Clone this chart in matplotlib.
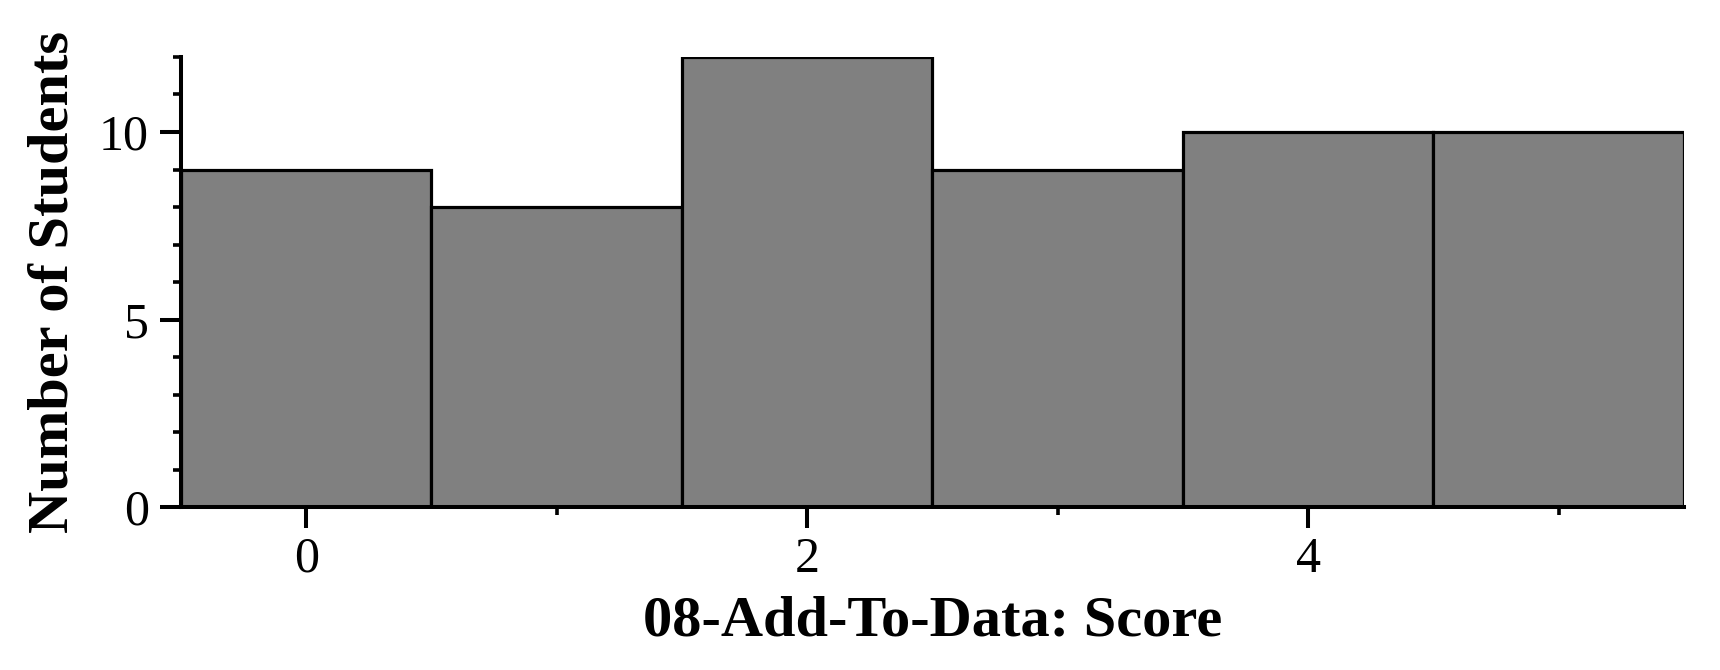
import numpy as np
import matplotlib
matplotlib.use("Agg")
import matplotlib.pyplot as plt
from matplotlib.ticker import MultipleLocator

scores = [0, 1, 2, 3, 4, 5]
counts = [9, 8, 12, 9, 10, 10]
xlabel = "08-Add-To-Data: Score"
ylabel = "Number of Students"

plt.rcParams["font.family"] = ["Liberation Serif", "DejaVu Serif"]

fig = plt.figure(figsize=(17.2, 6.7), dpi=100)
ax = fig.add_axes([0.1052, 0.243, 0.8738, 0.672])

ax.bar(scores, counts, width=1.0, color="#808080", edgecolor="black", linewidth=2.3)

ax.set_xlim(-0.5, 5.5)
ax.set_ylim(0, 12)
ax.spines["top"].set_visible(False)
ax.spines["right"].set_visible(False)
for s in ("left", "bottom"):
    ax.spines[s].set_linewidth(2.9)

ax.xaxis.set_major_locator(MultipleLocator(2))
ax.xaxis.set_minor_locator(MultipleLocator(1))
ax.yaxis.set_major_locator(MultipleLocator(5))
ax.yaxis.set_minor_locator(MultipleLocator(1))
ax.tick_params(which="major", length=15, width=2.9, labelsize=36)
ax.tick_params(which="minor", length=6, width=2.6)
ax.tick_params(axis="x", which="major", pad=6)
ax.tick_params(axis="y", which="major", pad=8)

ax.set_xlabel(xlabel, fontsize=42, fontweight="bold", labelpad=9)
ax.set_ylabel(ylabel, fontsize=42, fontweight="bold", labelpad=14)

fig.savefig("out.png", dpi=100)
